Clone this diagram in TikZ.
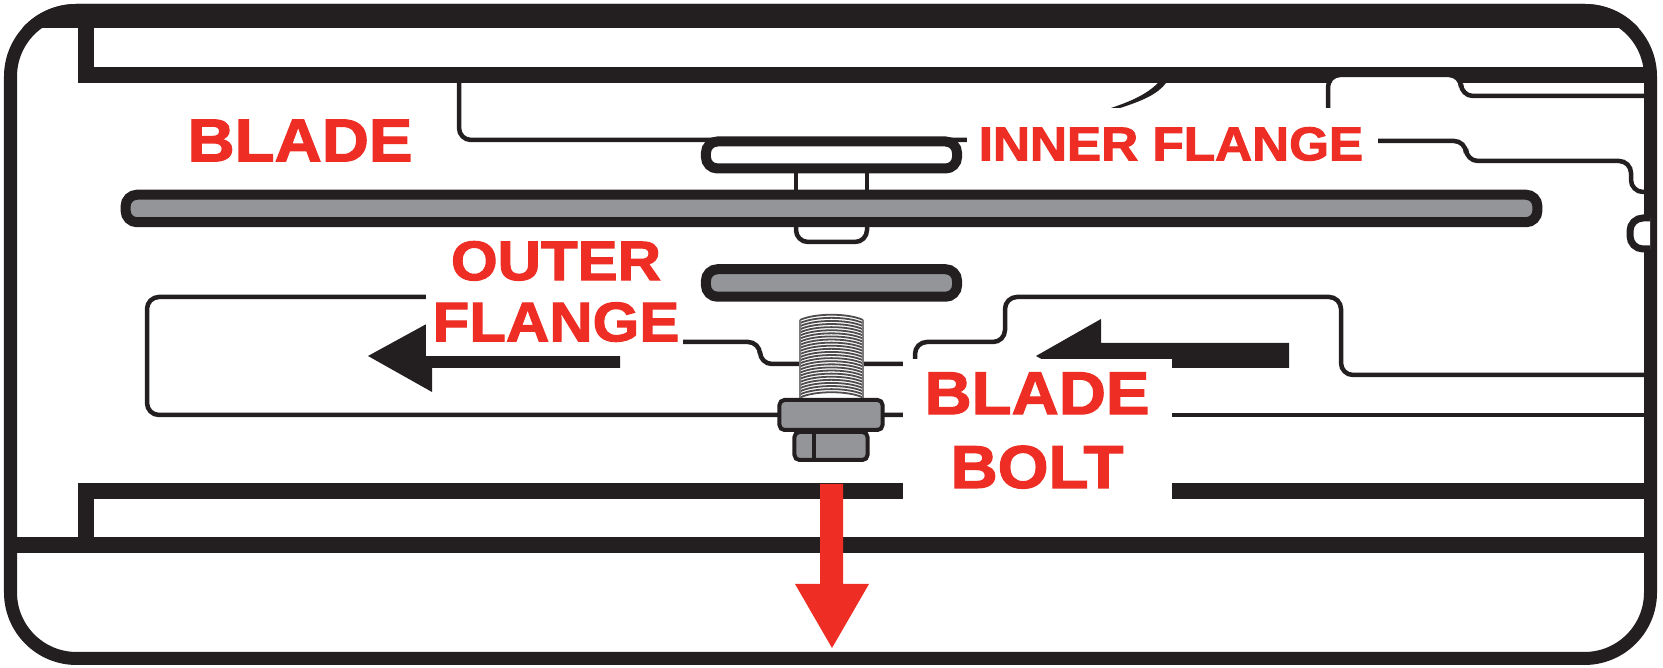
\documentclass[tikz,border=0pt]{standalone}
\usepackage{fontspec}
\setmainfont{Liberation Sans}
\newfontfamily\labelfont[BoldFeatures={FakeBold=2,FakeStretch=1.08}]{Liberation Sans}
\usepackage{tikz}
\definecolor{inkblack}{HTML}{231F20}
\definecolor{partgray}{HTML}{939598}
\definecolor{labelred}{HTML}{EE2E24}
\tikzstyle{frameline} = [draw=inkblack,line width=0.13cm,rounded corners=0.66cm]
\tikzstyle{thinline} = [draw=inkblack,line width=0.045cm,rounded corners=0.12cm]
\tikzstyle{plate} = [rectangle,rounded corners=0.115cm,draw=inkblack,line width=0.1cm]
\tikzstyle{boltpart} = [rectangle,rounded corners=0.05cm,draw=inkblack,line width=0.04cm,fill=partgray]
\tikzstyle{bigtext} = [text=labelred,font=\labelfont\bfseries\fontsize{17.2}{21}\selectfont,align=center,inner sep=0pt]
\tikzstyle{patch} = [fill=white,inner sep=0pt]
\begin{document}
\begin{tikzpicture}[x=0.01cm,y=-0.01cm]
\useasboundingbox (0,0) rectangle (1663,668);
% Drawing the frame and the bars
\begin{scope}
\clip[rounded corners=0.72cm] (4,4) rectangle (1657,665);
\fill[inkblack] (0,0) rectangle (1663,28);
\end{scope}
\draw[frameline] (10.5,10.5) rectangle (1650.5,658.5);
\fill[inkblack] (78,28) rectangle (94,83);
\fill[inkblack] (78,67) rectangle (1650,83);
\fill[inkblack] (78,483) rectangle (94,553);
\fill[inkblack] (78,483) rectangle (1650,499);
\fill[inkblack] (17,537) rectangle (1650,553);
% Drawing the thin outlines
\fill[white] (1332,77) rectangle (1459,84);
\draw[thinline] (459,83) -- (459,140) -- (967,140);
\draw[thinline] (1328,108) -- (1328,75) -- (1461,75) -- (1461,96) -- (1650,96);
\fill[inkblack] (1158,83) .. controls (1147,94) and (1132,101) .. (1111,108) -- (1120,108) .. controls (1142,101) and (1158,94) .. (1166,83) -- cycle;
\draw[thinline] (1378,141) -- (1466,141) -- (1466,161) -- (1631,161) -- (1631,192) -- (1650,192);
\draw[thinline,line width=0.07cm,rounded corners=0.13cm,fill=white] (1650,218) -- (1630,218) -- (1630,249) -- (1650,249);
\draw[thinline] (500,297) -- (147,297) -- (147,415) -- (903,415);
\draw[thinline] (683,342) -- (760,342) -- (760,364) -- (903,364);
\draw[thinline] (915,364) -- (915,342) -- (1005,342) -- (1005,297) -- (1341,297) -- (1341,375) -- (1650,375);
\draw[thinline] (1172,415) -- (1650,415);
% Drawing the black arrows
\fill[inkblack] (368,356) -- (432,321) -- (432,343) -- (620,343) -- (620,368) -- (432,368) -- (432,392) -- cycle;
\fill[inkblack] (1036,356) -- (1101,319) -- (1101,343) -- (1289,343) -- (1289,368) -- (1101,368) -- (1101,392) -- cycle;
% Calling the parts
\node (blade) [plate,fill=partgray,minimum width=14.11cm,minimum height=0.275cm] at (831.5,208.5) {};
\draw[thinline] (796,173) -- (796,190);
\draw[thinline] (867,173) -- (867,190);
\draw[thinline] (796,227) -- (796,242) -- (867,242) -- (867,227);
\node (innerflange) [plate,fill=white,minimum width=2.51cm,minimum height=0.27cm] at (831.5,155) {};
\node (outerflange) [plate,fill=partgray,minimum width=2.51cm,minimum height=0.275cm] at (831.5,283) {};
% Drawing the bolt thread
\fill[white] (800,400) -- (800,320) .. controls (810,310) and (853,310) .. (863,320) -- (863,400) -- cycle;
\foreach \ty in {320,323.1,...,400}
  \draw[draw=inkblack!80,line width=0.018cm] (800,\ty) .. controls (815,\ty-7) and (848,\ty-7) .. (863,\ty);
\draw[draw=inkblack!60,line width=0.012cm] (800,320) -- (800,400);
\draw[draw=inkblack!60,line width=0.012cm] (863,320) -- (863,400);
\node (washer) [boltpart,minimum width=1.03cm,minimum height=0.3cm] at (831,415) {};
\node (bolthead) [boltpart,minimum width=0.73cm,minimum height=0.28cm] at (831,446) {};
\draw[draw=inkblack,line width=0.035cm] (814,432) -- (814,459);
% Calling the labels
\node (outerpatch) [patch,minimum width=2.57cm,minimum height=1.21cm] at (554.5,295.5) {};
\node (innerpatch) [patch,minimum width=4.11cm,minimum height=0.45cm] at (1172.5,142) {};
\node (boltpatch) [patch,minimum width=2.69cm,minimum height=1.4cm] at (1037.5,429) {};
\node (bladetext) [bigtext] at (300,140.5) {BLADE};
\node (outertext) [bigtext,font=\labelfont\bfseries\fontsize{15.8}{17.4}\selectfont] at (556,291.5) {OUTER\\FLANGE};
\node (innertext) [bigtext,font=\labelfont\bfseries\fontsize{13.5}{16}\selectfont] at (1171,144) {INNER FLANGE};
\node (bolttext) [bigtext] at (1037,430.5) {BLADE\\BOLT};
% Drawing the red arrow
\fill[labelred] (820,484) -- (843,484) -- (843,584) -- (869,584) -- (832,648) -- (795,584) -- (820,584) -- cycle;
\end{tikzpicture}
\end{document}
